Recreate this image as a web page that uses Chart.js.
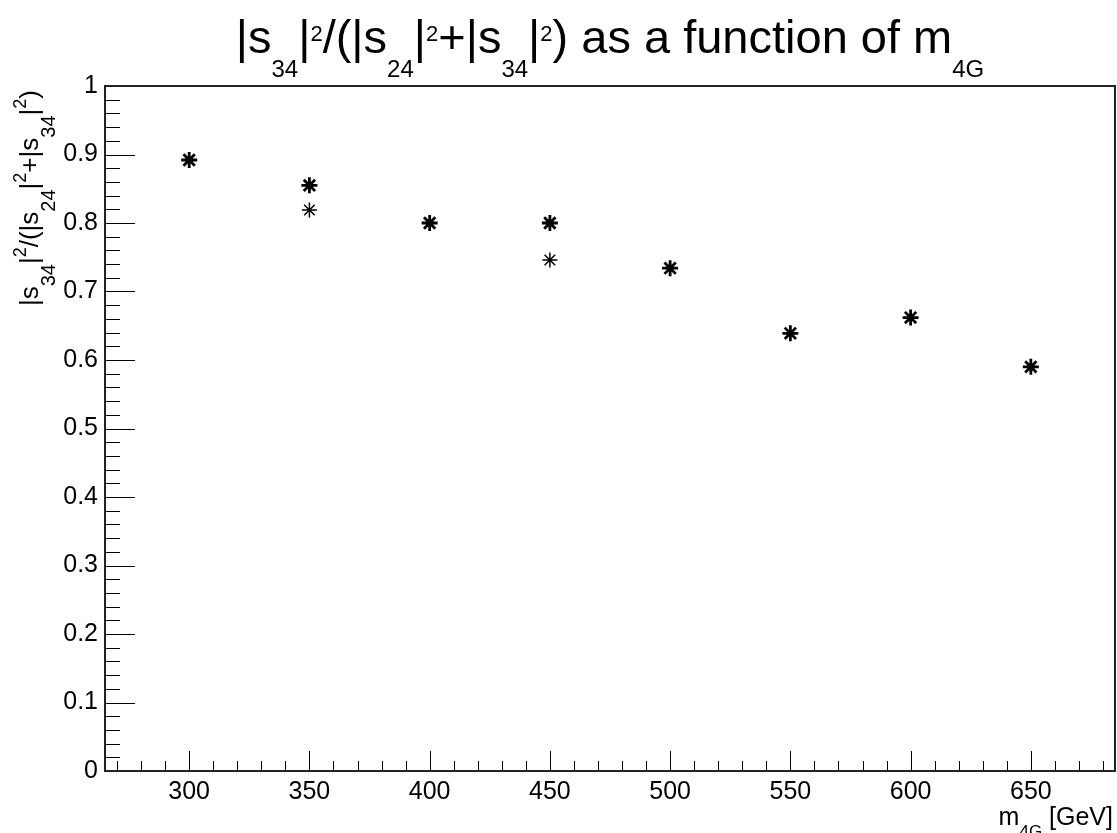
<!DOCTYPE html>
<html>
<head>
<meta charset="utf-8">
<script src="https://cdn.jsdelivr.net/npm/chart.js@4/dist/chart.umd.min.js"></script>
<style>
    body { margin: 0; background: #fff; }
    #wrap { position: relative; width: 1117px; height: 833px; overflow: hidden; font-family: "Liberation Sans", Arial, sans-serif; color: #000; }
    #plot { position: absolute; left: 0; top: 0; }
    .txt { position: absolute; white-space: nowrap; }
    .txt span { position: relative; }
    #title { left: 105px; width: 1010px; top: 13px; text-align: center; font-size: 47px; line-height: 47px; }
    #title .sub { font-size: 24px; top: 24px; }
    #title .sup { font-size: 22px; top: -12px; }
    #ytitle { left: 16px; top: 690px; width: 600px; text-align: right; font-size: 26px; line-height: 26px;
              transform: rotate(-90deg); transform-origin: left top; }
    #ytitle .sub { font-size: 20px; top: 17px; }
    #ytitle .sup { font-size: 18px; top: -12px; }
    #xtitle { right: 4px; top: 804px; font-size: 25px; line-height: 25px; }
    #xtitle .sub { font-size: 17px; top: 12px; }
</style>
</head>
<body>
<div id="wrap">
    <canvas id="plot" width="1117" height="833"></canvas>
    <div class="txt" id="title">|s<span class="sub">34</span>|<span class="sup">2</span>/(|s<span class="sub">24</span>|<span class="sup">2</span>+|s<span class="sub">34</span>|<span class="sup">2</span>) as a function of m<span class="sub">4G</span></div>
    <div class="txt" id="ytitle">|s<span class="sub">34</span>|<span class="sup">2</span>/(|s<span class="sub">24</span>|<span class="sup">2</span>+|s<span class="sub">34</span>|<span class="sup">2</span>)</div>
    <div class="txt" id="xtitle">m<span class="sub">4G</span> [GeV]</div>
</div>
<script>
// masses (GeV) and ratio values
const massBold = [300, 350, 400, 450, 500, 550, 600, 650];
const ratioBold = [0.892, 0.855, 0.800, 0.800, 0.734, 0.639, 0.662, 0.590];
const massThin = [350, 450];
const ratioThin = [0.819, 0.746];

// axis ranges and tick labels
const xRange = [265, 685];
const yRange = [0, 1];
const xTickValues = [300, 350, 400, 450, 500, 550, 600, 650];
const yTickValues = [0, 0.1, 0.2, 0.3, 0.4, 0.5, 0.6, 0.7, 0.8, 0.9, 1];

function toPoints(xs, ys) {
    return xs.map((x, i) => ({ x: x, y: ys[i] }));
}

// ROOT-like frame with inward major/minor ticks
const rootFrame = {
    id: 'rootFrame',
    afterDatasetsDraw(chart) {
        const ctx = chart.ctx;
        const area = chart.chartArea;
        const xs = chart.scales.x;
        const ys = chart.scales.y;
        ctx.save();
        ctx.strokeStyle = '#000';
        ctx.lineWidth = 1;
        ctx.beginPath();
        // y ticks: major 0.1, minor 0.02
        for (let i = 0; i <= 50; i++) {
            const py = Math.round(ys.getPixelForValue(i * 0.02)) + 0.5;
            const len = i % 5 === 0 ? 30 : 15;
            ctx.moveTo(area.left, py);
            ctx.lineTo(area.left + len, py);
        }
        // x ticks: major 50, minor 10
        for (let v = 270; v <= 680; v += 10) {
            const px = Math.round(xs.getPixelForValue(v)) + 0.5;
            const len = v % 50 === 0 ? 20 : 10;
            ctx.moveTo(px, area.bottom);
            ctx.lineTo(px, area.bottom - len);
        }
        ctx.stroke();
        // frame
        ctx.strokeStyle = '#222';
        ctx.lineWidth = 2;
        ctx.strokeRect(area.left, area.top, area.right - area.left, area.bottom - area.top);
        ctx.restore();
    }
};

const tickFont = { family: '"Liberation Sans", Arial, sans-serif', size: 25 };

new Chart(document.getElementById('plot'), {
    type: 'scatter',
    data: {
        datasets: [
            {
                label: 'double',
                data: toPoints(massBold, ratioBold),
                pointStyle: 'star',
                pointRadius: 8,
                borderColor: '#000',
                backgroundColor: '#000',
                pointBorderWidth: 2.8
            },
            {
                label: 'single',
                data: toPoints(massThin, ratioThin),
                pointStyle: 'star',
                pointRadius: 7.5,
                borderColor: '#000',
                backgroundColor: '#000',
                pointBorderWidth: 1.5
            }
        ]
    },
    options: {
        responsive: false,
        animation: false,
        devicePixelRatio: 1,
        layout: { autoPadding: false, padding: { top: 86, right: 2, left: 0, bottom: 0 } },
        plugins: {
            legend: { display: false },
            tooltip: { enabled: false }
        },
        scales: {
            x: {
                type: 'linear',
                position: 'bottom',
                min: xRange[0],
                max: xRange[1],
                grid: { display: false, drawTicks: false },
                border: { display: false },
                afterBuildTicks: s => { s.ticks = xTickValues.map(v => ({ value: v })); },
                afterFit: s => { s.height = 62; s.paddingLeft = 0; s.paddingRight = 0; },
                ticks: {
                    color: '#000',
                    font: tickFont,
                    padding: 6,
                    maxRotation: 0,
                    autoSkip: false,
                    callback: v => String(v)
                }
            },
            y: {
                type: 'linear',
                min: yRange[0],
                max: yRange[1],
                grid: { display: false, drawTicks: false },
                border: { display: false },
                afterBuildTicks: s => { s.ticks = yTickValues.map(v => ({ value: v })); },
                afterFit: s => { s.width = 105; s.paddingTop = 0; s.paddingBottom = 0; },
                ticks: {
                    color: '#000',
                    font: tickFont,
                    padding: 7,
                    autoSkip: false,
                    callback: v => String(Math.round(v * 10) / 10)
                }
            }
        }
    },
    plugins: [rootFrame]
});
</script>
</body>
</html>
